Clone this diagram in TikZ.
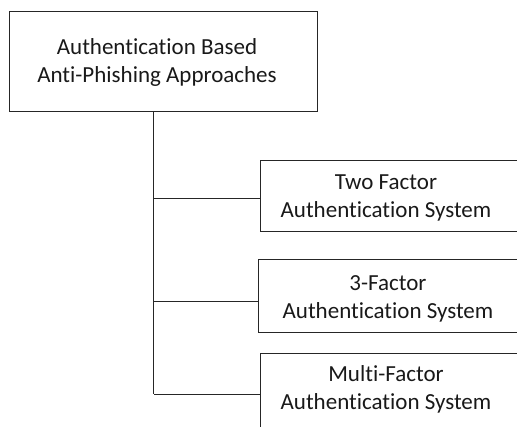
\documentclass[tikz,border=0pt]{standalone}
\usepackage{fontspec}
\setmainfont{Carlito}[RawFeature={-liga;-clig}]
\begin{document}
\begin{tikzpicture}[x=1pt,y=-1pt,
  boxstyle/.style={draw=black!85, line width=1pt, rectangle, inner sep=0pt},
  labelstyle/.style={align=center, inner sep=0pt, font=\fontsize{23}{28}\selectfont, text=black!90},
  linkstyle/.style={draw=black!85, line width=1pt}]
\useasboundingbox (0,0) rectangle (517,426);
% top box
\node[boxstyle, minimum width=308pt, minimum height=100pt, anchor=north west] (top) at (9,11) {};
\node[labelstyle] (ttop) at (157,62) {Authentication Based\\Anti-Phishing Approaches};
% child boxes
\node[boxstyle, minimum width=290pt, minimum height=71.5pt, anchor=north west] (b1) at (260,159.5) {};
\node[labelstyle] (t1) at (386,197.5) {Two Factor\\Authentication System};
\node[boxstyle, minimum width=290pt, minimum height=73pt, anchor=north west] (b2) at (258,259) {};
\node[labelstyle] (t2) at (388,298.5) {3-Factor\\Authentication System};
\node[boxstyle, minimum width=290pt, minimum height=82pt, anchor=north west] (b3) at (260,353) {};
\node[labelstyle] (t3) at (386,389.5) {Multi-Factor\\Authentication System};
% connectors
\coordinate (trunk) at (153.5,394);
\path[linkstyle] (top.south -| trunk) -- (trunk);
\path[linkstyle] ([yshift=-3pt]b1.west) -- ([yshift=-3pt]b1.west -| trunk);
\path[linkstyle] ([yshift=-5.5pt]b2.west) -- ([yshift=-5.5pt]b2.west -| trunk);
\path[linkstyle] (b3.west) -- (b3.west -| trunk);
\end{tikzpicture}
\end{document}
